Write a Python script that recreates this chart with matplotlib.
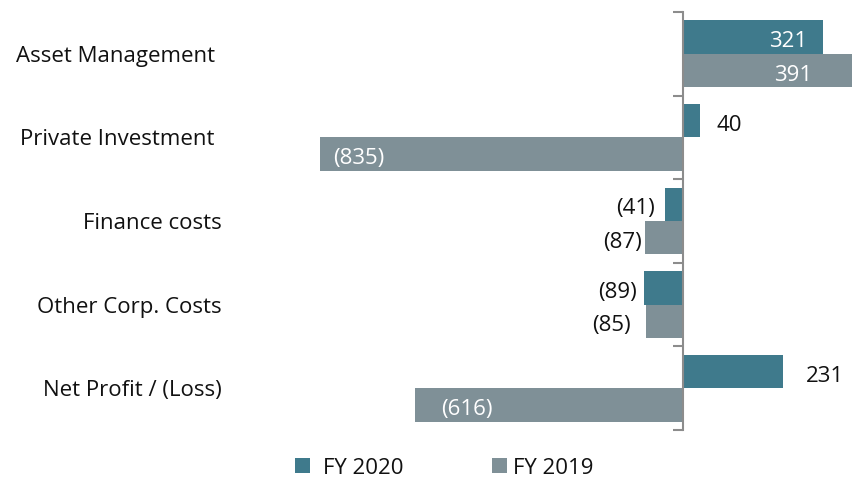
import matplotlib
matplotlib.use("Agg")
import matplotlib.pyplot as plt
import matplotlib.transforms as mtransforms
from matplotlib.patches import Rectangle
import numpy as np

plt.rcParams['font.family'] = ['Open Sans', 'DejaVu Sans']

categories = ["Asset Management", "Private Investment", "Finance costs",
              "Other Corp. Costs", "Net Profit / (Loss)"]
fy2020 = [321, 40, -41, -89, 231]
fy2019 = [391, -835, -87, -85, -616]
series_names = ["FY 2020", "FY 2019"]

c2020 = "#3f7a8c"
c2019 = "#7f9097"
FS = 16

W, H = 853, 478
fig = plt.figure(figsize=(W / 100, H / 100), dpi=100)
left_px, right_px, top_px, bot_px = 300, 853, 12, 430
ax = fig.add_axes([left_px / W, 1 - bot_px / H, (right_px - left_px) / W, (bot_px - top_px) / H])
scale = 0.4348  # px per unit
ax.set_xlim(-(683 - left_px) / scale, (right_px - 683) / scale)
ax.set_ylim(len(categories) - 0.5, -0.5)

y = np.arange(len(categories))
bh = 0.4
ax.barh(y - bh / 2, fy2020, height=bh, color=c2020, zorder=2)
ax.barh(y + bh / 2, fy2019, height=bh, color=c2019, zorder=2)

for s in ["top", "right", "bottom"]:
    ax.spines[s].set_visible(False)
ax.spines["left"].set_position(("data", 0))
ax.spines["left"].set_color("#8c8c8c")
ax.spines["left"].set_linewidth(1.5)
ax.spines["left"].set_zorder(3)
ax.set_xticks([])
ax.set_yticks(np.arange(-0.5, len(categories) + 0.5, 1))
ax.set_yticklabels([])
ax.tick_params(axis="y", length=7, width=1.5, color="#8c8c8c", direction="out")
ax.patch.set_alpha(0)

def fmt(v):
    return f"({abs(v)})" if v < 0 else f"{v}"

# label placement: (inside?, pixel offset from bar end)
lab2020 = [(True, -15), (False, 16), (False, -10), (False, -7), (False, 22)]
lab2019 = [(True, -41), (True, 13), (False, -3), (False, -15), (True, 26)]
for vals, labs, off in [(fy2020, lab2020, -bh / 2), (fy2019, lab2019, bh / 2)]:
    for i, (v, (inside, dx)) in enumerate(zip(vals, labs)):
        if inside:
            ha = "right" if v > 0 else "left"
            col = "white"
        else:
            ha = "left" if v > 0 else "right"
            col = "#111111"
        ax.annotate(fmt(v), xy=(v, i + off), xytext=(dx * 0.72, -1.5), textcoords="offset points",
                    ha=ha, va="center_baseline", fontsize=FS, color=col, zorder=4)

trans = mtransforms.blended_transform_factory(fig.transFigure, ax.transData)
label_right = [215, 215, 222, 222, 222]
for i, (c, xr) in enumerate(zip(categories, label_right)):
    fig.text(xr / W, i, c, transform=trans, ha="right", va="center_baseline", fontsize=FS, color="#111111")

# legend
for name, col, sq_x, tx in [(series_names[0], c2020, 295, 323), (series_names[1], c2019, 492, 513)]:
    fig.add_artist(Rectangle((sq_x / W, 1 - 473 / H), 15 / W, 15 / H, transform=fig.transFigure,
                             facecolor=col, edgecolor="none"))
    fig.text(tx / W, 1 - 466 / H, name, ha="left", va="center_baseline", fontsize=FS, color="#111111")

fig.savefig("out.png", dpi=100)
